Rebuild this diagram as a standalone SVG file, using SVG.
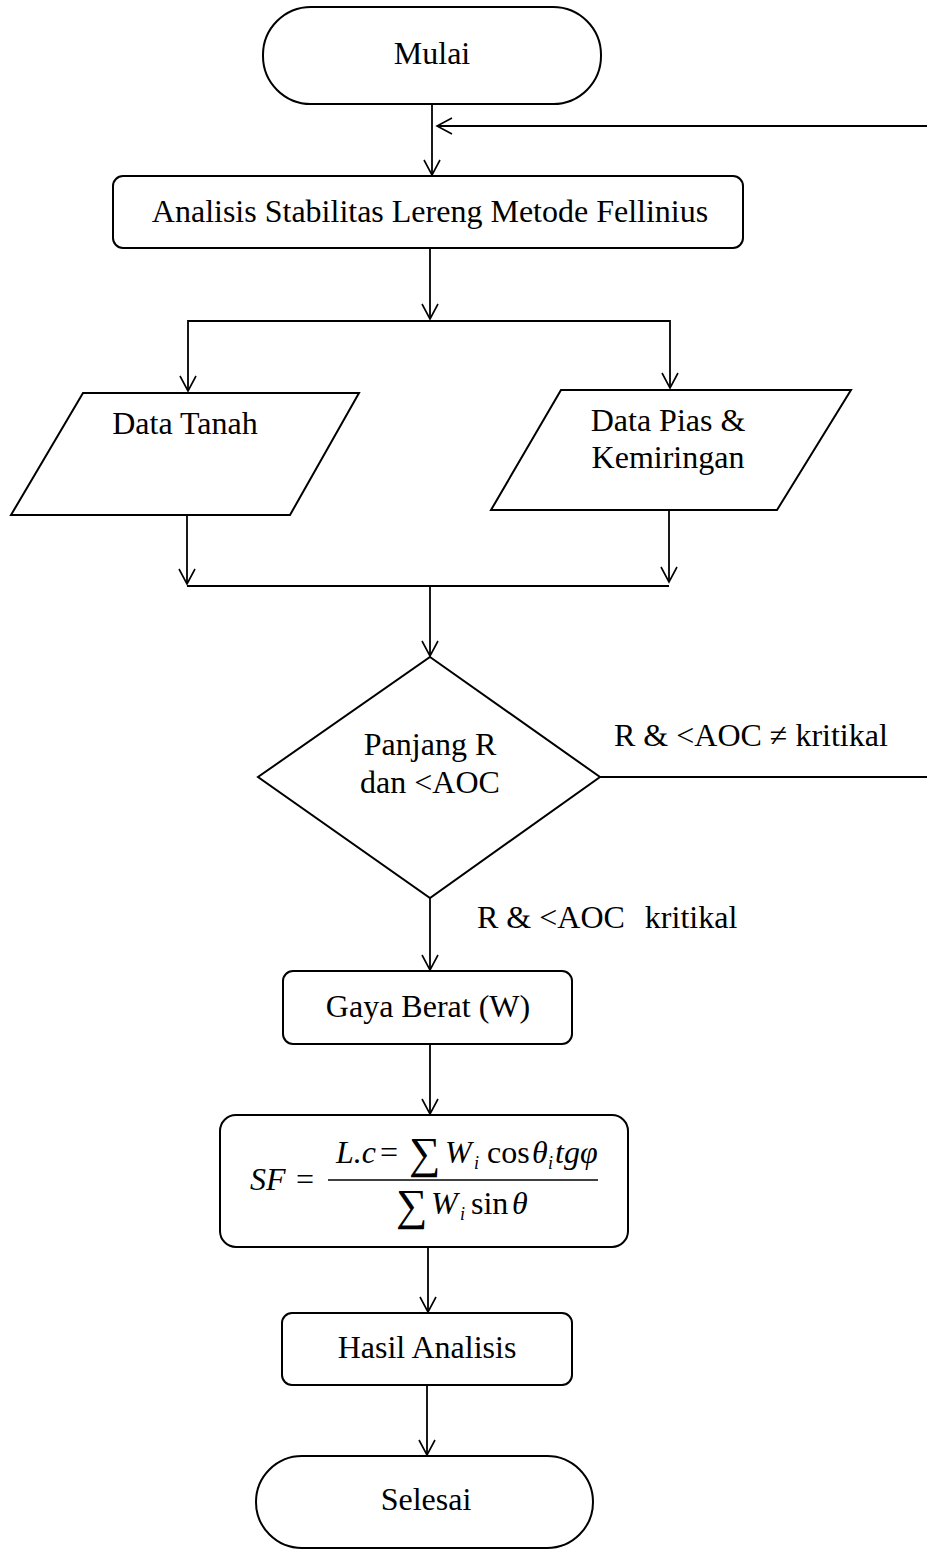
<svg xmlns="http://www.w3.org/2000/svg" width="927" height="1550" viewBox="0 0 927 1550">
<defs>
<marker id="ah" viewBox="-17 -10 19 20" refX="0" refY="0" markerWidth="19" markerHeight="20" markerUnits="userSpaceOnUse" orient="auto">
<path d="M-15,-8 L0,0 L-15,8" fill="none" stroke="#000" stroke-width="1.6"/>
</marker>
</defs>
<style>
.s{fill:#fff;stroke:#000;stroke-width:2}
.t{font-family:"Liberation Serif","Times New Roman",serif;font-size:32px;fill:#000}
.m{text-anchor:middle}
.i{font-style:italic}
.c{fill:none;stroke:#000;stroke-width:1.8}
.a{marker-end:url(#ah)}
</style>
<rect width="927" height="1550" fill="#fff"/>
<g id="connectors">
<path class="c a" d="M432,104 V175"/>
<path class="c a" d="M927,126 H437"/>
<path class="c a" d="M430,248 V319"/>
<path class="c a" d="M430,321 H188 V391"/>
<path class="c a" d="M430,321 H670 V388"/>
<path class="c a" d="M187,515 V584"/>
<path class="c a" d="M669,510 V582"/>
<path class="c" d="M187,586 H669"/>
<path class="c a" d="M430,586 V656"/>
<path class="c" d="M600,777 H927"/>
<path class="c a" d="M430,898 V970"/>
<path class="c a" d="M430,1044 V1114"/>
<path class="c a" d="M428,1247 V1312"/>
<path class="c a" d="M427,1385 V1455"/>
<text class="t" x="614" y="746">R &amp; &lt;AOC ≠ kritikal</text>
<text class="t" x="477" y="928">R &amp; &lt;AOC<tspan dx="20">kritikal</tspan></text>
</g>
<g id="mulai">
<rect class="s" x="263" y="7" width="338" height="97" rx="48" ry="48"/>
<text class="t m" x="432" y="64">Mulai</text>
</g>
<g id="analisis">
<rect class="s" x="113" y="176" width="630" height="72" rx="10" ry="10"/>
<text class="t m" x="430" y="222">Analisis Stabilitas Lereng Metode Fellinius</text>
</g>
<g id="data-tanah">
<polygon class="s" points="83,393 359,393 290,515 11,515"/>
<text class="t m" x="185" y="434">Data Tanah</text>
</g>
<g id="data-pias">
<polygon class="s" points="561,390 851,390 777,510 491,510"/>
<text class="t m" x="668" y="431">Data Pias &amp;</text>
<text class="t m" x="668" y="468">Kemiringan</text>
</g>
<g id="keputusan">
<polygon class="s" points="430,657 600,777 430,898 258,777"/>
<text class="t m" x="430" y="755">Panjang R</text>
<text class="t m" x="430" y="793">dan &lt;AOC</text>
</g>
<g id="gaya-berat">
<rect class="s" x="283" y="971" width="289" height="73" rx="10" ry="10"/>
<text class="t m" x="428" y="1017">Gaya Berat (W)</text>
</g>
<g id="rumus">
<rect class="s" x="220" y="1115" width="408" height="132" rx="16" ry="16"/>
<text class="t i" x="250" y="1190">SF</text>
<text class="t" x="296" y="1190">=</text>
<text class="t i" x="336" y="1163">L.c</text>
<text class="t" x="380" y="1163">=</text>
<text class="t" x="409" y="1168" style="font-size:44px">∑</text>
<text class="t i" x="445" y="1163">W</text>
<text class="t i" x="474" y="1169" style="font-size:18px">i</text>
<text class="t" x="487" y="1163">cos</text>
<text class="t i" x="532" y="1163">θ</text>
<text class="t i" x="548" y="1169" style="font-size:18px">i</text>
<text class="t i" x="555" y="1163">tgφ</text>
<line x1="328" y1="1180" x2="598" y2="1180" stroke="#000" stroke-width="1.6"/>
<text class="t" x="396" y="1220" style="font-size:44px">∑</text>
<text class="t i" x="431" y="1214">W</text>
<text class="t i" x="460" y="1220" style="font-size:18px">i</text>
<text class="t" x="471" y="1214">sin</text>
<text class="t i" x="512" y="1214">θ</text>
</g>
<g id="hasil">
<rect class="s" x="282" y="1313" width="290" height="72" rx="10" ry="10"/>
<text class="t m" x="427" y="1358">Hasil Analisis</text>
</g>
<g id="selesai">
<rect class="s" x="256" y="1456" width="337" height="92" rx="46" ry="46"/>
<text class="t m" x="426" y="1510">Selesai</text>
</g>
</svg>
